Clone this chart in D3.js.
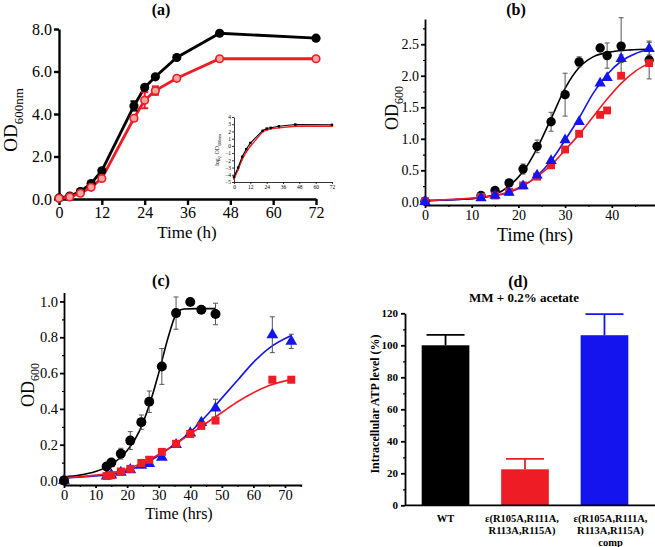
<!DOCTYPE html>
<html><head><meta charset="utf-8">
<script src="https://cdn.jsdelivr.net/npm/d3@7"></script>
<style>body{margin:0;background:#fff}svg{display:block}</style>
</head><body>
<svg id="c" width="655" height="547"></svg>
<script>
// ---------- DATA ----------
// Panel (a)
const aTime=[0,3,6,9,12,21,24,27,33,45,72];
const aWT=[0.05,0.14,0.35,0.73,1.33,4.38,5.25,5.75,6.66,7.8,7.57];
const aWTerr=[0,0,0,0,0,0.22,0,0,0,0,0];
const aMut=[0.03,0.1,0.27,0.55,0.97,3.8,4.65,5.1,5.68,6.6,6.6];
const aMutErr=[0,0,0,0,0,0.1,0.38,0.2,0,0,0];
const aXTicks=[0,12,24,36,48,60,72];
const aYTicks=[0,2,4,6,8];
// Inset (a)
const insetWT=[-4.3,-3.0,-1.5,-0.45,0.4,2.1,2.4,2.5,2.72,2.96,2.92];
const insetMut=[-4.6,-3.3,-1.9,-0.85,-0.05,1.93,2.2,2.35,2.5,2.72,2.72];
const insetXTicks=[0,12,24,36,48,60,72];
const insetYTicks=[-5,-4,-3,-2,-1,0,1,2,3,4];
// Panel (b)
const bTime=[0,12,15,18,21,24,27,30,33,37.5,39,42,48];
const bWT=[0.01,0.1,0.18,0.3,0.52,0.88,1.27,1.7,2.22,2.44,2.32,2.47,2.25];
const bWTerr=[0,0.02,0.02,0.03,0.08,0.1,0.15,0.34,0.08,0.05,0.2,0.45,0.3];
const bMut=[0.01,0.08,0.1,0.16,0.26,0.4,0.58,0.83,1.08,1.38,1.45,2.0,2.2];
const bComp=[0.0,0.06,0.1,0.15,0.25,0.42,0.65,0.98,1.27,1.88,1.97,2.27,2.43];
const bCompErr=[0,0,0,0,0,0,0,0,0,0,0,0.06,0.1];
const bFitT=[0,10,15,18,21,24,27,30,33,36,40,44,48];
const bFitWT=[0.02,0.05,0.12,0.25,0.48,0.85,1.32,1.8,2.13,2.3,2.38,2.41,2.42];
const bFitT2=[0,10,15,18,21,24,27,30,33,36,39,42,45,48];
const bFitComp=[0.02,0.05,0.1,0.15,0.25,0.41,0.65,0.98,1.33,1.72,2.02,2.23,2.35,2.42];
const bFitMut=[0.02,0.06,0.1,0.16,0.26,0.4,0.58,0.82,1.07,1.35,1.63,1.88,2.07,2.2];
const bXTicks=[0,10,20,30,40];
const bYTicks=[0,0.5,1.0,1.5,2.0,2.5];
// Panel (c)
const cTimeWT=[0,13.5,15,18,21,24.5,27,31,35.5,40,43.5,48];
const cWT=[0.0,0.078,0.1,0.15,0.223,0.326,0.44,0.637,0.935,0.997,0.954,0.93];
const cWTerr=[0,0,0.01,0.03,0.05,0.04,0.06,0.1,0.09,0,0,0.06];
const cTime=[0,13.5,15,18,21,24.5,27,31,35.5,40,43.5,48,66,72];
const cMut=[0,0.025,0.03,0.05,0.065,0.098,0.116,0.16,0.205,0.26,0.305,0.335,0.563,0.563];
const cComp=[0,0.025,0.03,0.045,0.06,0.085,0.095,0.13,0.2,0.265,0.324,0.404,0.814,0.777];
const cCompErr=[0,0,0,0,0,0,0,0,0,0.015,0,0.05,0.1,0.04];
const cFitTWT=[0,5,10,13.5,18,21,24,27,30,33,35,36,38,42,48];
const cFitWT=[0.02,0.03,0.05,0.075,0.13,0.19,0.28,0.42,0.6,0.8,0.91,0.945,0.958,0.96,0.96];
const cFitT=[0,10,15,20,25,30,35,40,45,50,55,60,65,72];
const cFitComp=[0.015,0.025,0.035,0.055,0.09,0.14,0.2,0.27,0.36,0.46,0.56,0.66,0.74,0.81];
const cFitMut=[0.015,0.03,0.042,0.065,0.1,0.145,0.2,0.26,0.32,0.38,0.44,0.49,0.53,0.565];
const cXTicks=[0,10,20,30,40,50,60,70];
const cYTicks=[0,0.2,0.4,0.6,0.8,1.0];
// Panel (d)
const dGroups=[["WT"],["ε(R105A,R111A,","R113A,R115A)"],["ε(R105A,R111A,","R113A,R115A)","comp"]];
const dValues=[100,22.5,106.3];
const dErr=[6.5,6.5,13.2];
const dYTicks=[0,20,40,60,80,100,120];

// ---------- DRAW ----------
const svg=d3.select("#c");
const serif='"Liberation Serif","Times New Roman",serif';
const RED="#ee1c24", BLUE="#1414ee";

function styleAxis(g,sw,fs,bold){
  g.select(".domain").attr("stroke","#000").attr("stroke-width",sw);
  g.selectAll(".tick line").attr("stroke","#000").attr("stroke-width",sw);
  g.selectAll(".tick text").attr("font-family",serif).attr("font-size",fs).attr("fill","#000")
    .attr("font-weight",bold?"bold":"normal");
}
function text(x,y,s,fs,opts={}){
  const t=svg.append("text").attr("x",x).attr("y",y).attr("font-family",serif).attr("font-size",fs)
    .attr("text-anchor",opts.anchor||"middle").attr("fill","#000");
  if(opts.bold) t.attr("font-weight","bold");
  if(opts.rotate) t.attr("transform",`rotate(-90,${x},${y})`);
  t.text(s);return t;
}
function subLabel(x,y,main,sub,fs,sfs,rot,extra){
  const t=svg.append("text").attr("x",x).attr("y",y).attr("font-family",serif).attr("font-size",fs)
    .attr("text-anchor","middle").attr("fill","#000");
  if(rot) t.attr("transform",`rotate(-90,${x},${y})`);
  if(extra){ // log2 OD600nm
    t.append("tspan").text("log");
    t.append("tspan").attr("font-size",sfs).attr("dy",fs*0.3).text("2");
    t.append("tspan").attr("dy",-fs*0.3).text(" "+main);
  } else t.append("tspan").text(main);
  t.append("tspan").attr("font-size",sfs).attr("dy",fs*0.3).text(sub);
  return t;
}
function errBars(g,xs,ys,es,x,y,color,cap,sw){
  xs.forEach((t,i)=>{
    if(!es[i]) return;
    const cx=x(t),y1=y(ys[i]-es[i]),y2=y(ys[i]+es[i]);
    g.append("line").attr("x1",cx).attr("x2",cx).attr("y1",y1).attr("y2",y2).attr("stroke",color).attr("stroke-width",sw);
    [y1,y2].forEach(yy=>g.append("line").attr("x1",cx-cap).attr("x2",cx+cap).attr("y1",yy).attr("y2",yy).attr("stroke",color).attr("stroke-width",sw));
  });
}
function symbols(g,xs,ys,x,y,type,size,color){
  g.selectAll(null).data(xs.map((t,i)=>[t,ys[i]])).join("path")
    .attr("d",d3.symbol().type(type).size(size))
    .attr("transform",d=>`translate(${x(d[0])},${y(d[1])})`).attr("fill",color);
}

// ===== Panel (a) =====
{
  const x=d3.scaleLinear([0,72],[59,316]);
  const y=d3.scaleLinear([0,8],[199,29]);
  const g=svg.append("g");
  const ax=g.append("g").attr("transform","translate(0,199)")
    .call(d3.axisBottom(x).tickValues(aXTicks).tickSize(6).tickSizeOuter(0).tickPadding(2));
  styleAxis(ax,2.4,16);
  const ay=g.append("g").attr("transform","translate(59,0)")
    .call(d3.axisLeft(y).tickValues(aYTicks).tickFormat(d3.format(".1f")).tickSize(5).tickSizeOuter(0).tickPadding(2));
  styleAxis(ay,2.4,16);
  const line=d3.line().x((d,i)=>x(aTime[i])).y(d=>y(d));
  g.append("path").attr("d",line(aWT)).attr("fill","none").attr("stroke","#000").attr("stroke-width",2.8);
  g.append("path").attr("d",line(aMut)).attr("fill","none").attr("stroke",RED).attr("stroke-width",2.8);
  errBars(g,aTime,aWT,aWTerr,x,y,"#000",3.5,2);
  errBars(g,aTime,aMut,aMutErr,x,y,RED,3.5,2);
  g.selectAll(null).data(aWT).join("circle").attr("cx",(d,i)=>x(aTime[i])).attr("cy",d=>y(d)).attr("r",4.6).attr("fill","#000");
  g.selectAll(null).data(aMut).join("circle").attr("cx",(d,i)=>x(aTime[i])).attr("cy",d=>y(d)).attr("r",3.8)
    .attr("fill","#f6a3a3").attr("stroke",RED).attr("stroke-width",1.6);
  text(161,15,"(a)",16,{bold:true});
  text(187,238,"Time (h)",17);
  subLabel(17,120,"OD","600nm",19,13,true);

  // inset
  const xi=d3.scaleLinear([0,72],[234,332]);
  const yi=d3.scaleLinear([-5,4],[182,117]);
  const gi=svg.append("g");
  const ix=gi.append("g").attr("transform","translate(0,182)")
    .call(d3.axisBottom(xi).tickValues(insetXTicks).tickSize(2).tickSizeOuter(0).tickPadding(1));
  styleAxis(ix,0.8,5.5);
  const iy=gi.append("g").attr("transform","translate(234,0)")
    .call(d3.axisLeft(yi).tickValues(insetYTicks).tickSize(2).tickSizeOuter(0).tickPadding(1));
  styleAxis(iy,0.8,5.5);
  const li=d3.line().x((d,i)=>xi(aTime[i])).y(d=>yi(d));
  gi.append("path").attr("d",li(insetMut)).attr("fill","none").attr("stroke",RED).attr("stroke-width",1.3);
  gi.append("path").attr("d",li(insetWT)).attr("fill","none").attr("stroke","#000").attr("stroke-width",1.1);
  gi.selectAll(null).data(insetMut).join("circle").attr("cx",(d,i)=>xi(aTime[i])).attr("cy",d=>yi(d)).attr("r",1).attr("fill",RED);
  gi.selectAll(null).data(insetWT).join("rect").attr("x",(d,i)=>xi(aTime[i])-1.2).attr("y",d=>yi(d)-1.2)
    .attr("width",2.4).attr("height",2.4).attr("fill","#000");
  subLabel(219,150,"OD","600nm",6,4.2,true,true);
}

// ===== Panel (b) =====
{
  const x=d3.scaleLinear([0,49.25],[425,655]);
  const y=d3.scaleLinear([-0.05,2.9],[205,19]);
  const g=svg.append("g");
  const ax=g.append("g").attr("transform","translate(0,205)")
    .call(d3.axisBottom(x).tickValues(bXTicks).tickSize(3).tickSizeOuter(0).tickPadding(2));
  styleAxis(ax,1.8,14);
  const axm=g.append("g").attr("transform","translate(0,205)")
    .call(d3.axisBottom(x).tickValues([5,15,25,35,45]).tickSize(2).tickFormat("").tickSizeOuter(0));
  styleAxis(axm,1.2,14); axm.select(".domain").remove();
  const ay=g.append("g").attr("transform","translate(425,0)")
    .call(d3.axisLeft(y).tickValues(bYTicks).tickFormat(d3.format(".1f")).tickSize(4).tickSizeOuter(0).tickPadding(2));
  styleAxis(ay,1.8,14);
  const aym=g.append("g").attr("transform","translate(425,0)")
    .call(d3.axisLeft(y).tickValues([0.25,0.75,1.25,1.75,2.25,2.75]).tickSize(2).tickFormat("").tickSizeOuter(0));
  styleAxis(aym,1.2,14); aym.select(".domain").remove();
  const mk=(T)=>d3.line().x((d,i)=>x(T[i])).y(d=>y(d)).curve(d3.curveMonotoneX);
  g.append("path").attr("d",mk(bFitT)(bFitWT)).attr("fill","none").attr("stroke","#000").attr("stroke-width",1.6);
  g.append("path").attr("d",mk(bFitT2)(bFitComp)).attr("fill","none").attr("stroke",BLUE).attr("stroke-width",1.6);
  g.append("path").attr("d",mk(bFitT2)(bFitMut)).attr("fill","none").attr("stroke",RED).attr("stroke-width",1.6);
  errBars(g,bTime,bWT,bWTerr,x,y,"#555",2.5,1);
  errBars(g,bTime,bComp,bCompErr,x,y,"#555",2.5,1);
  g.selectAll(null).data(bWT).join("circle").attr("cx",(d,i)=>x(bTime[i])).attr("cy",d=>y(d)).attr("r",4.7).attr("fill","#000");
  symbols(g,bTime,bMut,x,y,d3.symbolSquare,62,RED);
  symbols(g,bTime,bComp,x,y,d3.symbolTriangle,55,BLUE);
  text(516,15,"(b)",16,{bold:true});
  text(535,241,"Time (hrs)",18);
  subLabel(398,108,"OD","600",18,12,true);
}

// ===== Panel (c) =====
{
  const x=d3.scaleLinear([0,75.3],[64,301.7]);
  const y=d3.scaleLinear([-0.025,1.05],[485,292.5]);
  const g=svg.append("g");
  const ax=g.append("g").attr("transform","translate(0,485)")
    .call(d3.axisBottom(x).tickValues(cXTicks).tickSize(3).tickSizeOuter(0).tickPadding(2));
  styleAxis(ax,1.8,14.5);
  const axm=g.append("g").attr("transform","translate(0,485)")
    .call(d3.axisBottom(x).tickValues([5,15,25,35,45,55,65,75]).tickSize(2).tickFormat("").tickSizeOuter(0));
  styleAxis(axm,1.2,14); axm.select(".domain").remove();
  const ay=g.append("g").attr("transform","translate(64,0)")
    .call(d3.axisLeft(y).tickValues(cYTicks).tickFormat(d3.format(".1f")).tickSize(4).tickSizeOuter(0).tickPadding(2));
  styleAxis(ay,1.8,14.5);
  const aym=g.append("g").attr("transform","translate(64,0)")
    .call(d3.axisLeft(y).tickValues([0.1,0.3,0.5,0.7,0.9]).tickSize(2).tickFormat("").tickSizeOuter(0));
  styleAxis(aym,1.2,14); aym.select(".domain").remove();
  const mk=(T)=>d3.line().x((d,i)=>x(T[i])).y(d=>y(d)).curve(d3.curveMonotoneX);
  g.append("path").attr("d",mk(cFitTWT)(cFitWT)).attr("fill","none").attr("stroke","#000").attr("stroke-width",1.6);
  g.append("path").attr("d",mk(cFitT)(cFitComp)).attr("fill","none").attr("stroke",BLUE).attr("stroke-width",1.6);
  g.append("path").attr("d",mk(cFitT)(cFitMut)).attr("fill","none").attr("stroke",RED).attr("stroke-width",1.6);
  errBars(g,cTimeWT,cWT,cWTerr,x,y,"#555",2.5,1);
  errBars(g,cTime,cComp,cCompErr,x,y,"#555",2.5,1);
  symbols(g,cTime,cComp,x,y,d3.symbolTriangle,60,BLUE);
  symbols(g,cTime,cMut,x,y,d3.symbolSquare,64,RED);
  g.selectAll(null).data(cWT).join("circle").attr("cx",(d,i)=>x(cTimeWT[i])).attr("cy",d=>y(d)).attr("r",5).attr("fill","#000");
  text(161,286,"(c)",16,{bold:true});
  text(179,519,"Time (hrs)",16);
  subLabel(34,385,"OD","600",18,12,true);
}

// ===== Panel (d) =====
{
  const y=d3.scaleLinear([0,120],[505.3,313.3]);
  const x=d3.scaleBand(dGroups.map((d,i)=>i),[405,645]).paddingInner(0.4).paddingOuter(0.21);
  const g=svg.append("g");
  const colors=["#000",RED,BLUE];
  const labelShift=[0,-3,6];
  // error bars (upper only)
  dValues.forEach((v,i)=>{
    const cx=x(i)+x.bandwidth()/2;
    g.append("line").attr("x1",cx).attr("x2",cx).attr("y1",y(v)).attr("y2",y(v+dErr[i])).attr("stroke",colors[i]).attr("stroke-width",1.8);
    g.append("line").attr("x1",cx-19).attr("x2",cx+19).attr("y1",y(v+dErr[i])).attr("y2",y(v+dErr[i])).attr("stroke",colors[i]).attr("stroke-width",1.8);
  });
  g.selectAll(null).data(dValues).join("rect").attr("x",(d,i)=>x(i)).attr("width",x.bandwidth())
    .attr("y",d=>y(d)).attr("height",d=>y(0)-y(d)).attr("fill",(d,i)=>colors[i]);
  const ay=g.append("g").attr("transform","translate(405,0)")
    .call(d3.axisLeft(y).tickValues(dYTicks).tickSize(4).tickSizeOuter(0).tickPadding(3));
  styleAxis(ay,1.8,11,true);
  const aym=g.append("g").attr("transform","translate(405,0)")
    .call(d3.axisLeft(y).tickValues([10,30,50,70,90,110]).tickSize(2).tickFormat("").tickSizeOuter(0));
  styleAxis(aym,1.2,11); aym.select(".domain").remove();
  g.append("line").attr("x1",405).attr("x2",655).attr("y1",y(0)).attr("y2",y(0)).attr("stroke","#000").attr("stroke-width",1.8);
  dGroups.forEach((lines,i)=>{
    const cx=x(i)+x.bandwidth()/2+labelShift[i];
    lines.forEach((s,j)=>text(cx,522+j*12.2,s,10.5,{bold:true}));
  });
  text(518,287,"(d)",16,{bold:true});
  text(524,302,"MM + 0.2% acetate",13,{bold:true});
  text(379,404,"Intracellular ATP level (%)",12,{bold:true,rotate:true});
}
</script>
</body></html>
